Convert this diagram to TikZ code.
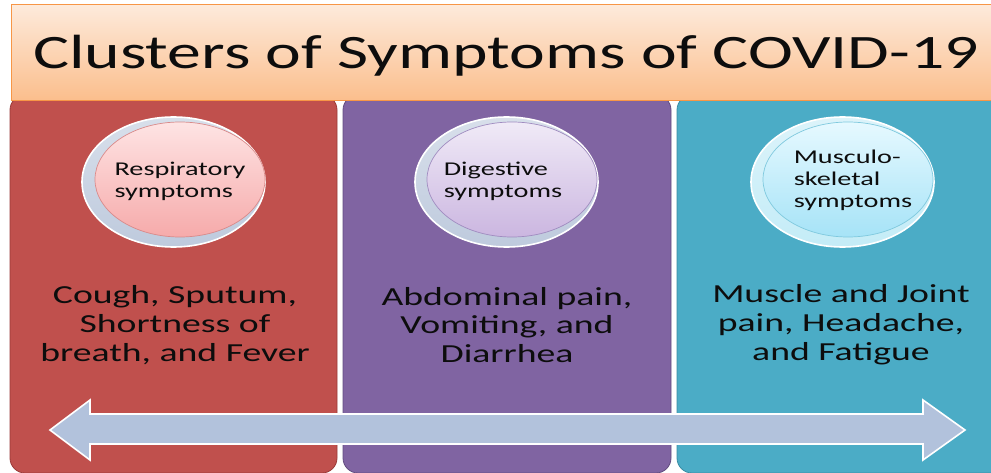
\documentclass[tikz,border=0pt]{standalone}
\usepackage{fontspec}
\newfontfamily\calfont[FakeStretch=1.45]{Carlito}
\newfontfamily\caltitle[FakeStretch=1.41]{Carlito}
\usetikzlibrary{shapes.geometric}
\definecolor{colred}{HTML}{C0504D}
\definecolor{colredline}{HTML}{9B3B39}
\definecolor{colpurple}{HTML}{8064A2}
\definecolor{colpurpleline}{HTML}{634D80}
\definecolor{colteal}{HTML}{4BACC6}
\definecolor{coltealline}{HTML}{3A8CA3}
\definecolor{titletop}{HTML}{FDEADB}
\definecolor{titlebot}{HTML}{FBBE8C}
\definecolor{titleline}{HTML}{F79646}
\definecolor{arrowfill}{HTML}{B2C2DC}
\definecolor{ringgray}{HTML}{BECADD}
\definecolor{ringcyan}{HTML}{C4ECF7}
\definecolor{redtop}{HTML}{FEE4E4}
\definecolor{redbot}{HTML}{F6AAAA}
\definecolor{redrim}{HTML}{D98A8A}
\definecolor{purtop}{HTML}{F0EAF7}
\definecolor{purbot}{HTML}{CBB6E0}
\definecolor{purrim}{HTML}{A08CC0}
\definecolor{teatop}{HTML}{E6F9FF}
\definecolor{teabot}{HTML}{A6E3F7}
\definecolor{tearim}{HTML}{7FC9DE}
\definecolor{textdark}{HTML}{0D0D0D}
\tikzset{
  column/.style={rounded corners=15pt, line width=0.8pt},
  ring/.style={ellipse, minimum width=183pt, minimum height=130pt, inner sep=0pt, draw=white, line width=1.6pt},
  disc/.style={ellipse, minimum width=170pt, minimum height=115pt, inner sep=0pt, line width=0.7pt},
  disctext/.style={font=\calfont\fontsize{19.5}{22}\selectfont, text=textdark, align=left},
  bodytext/.style={font=\calfont\fontsize{26}{28.8}\selectfont, text=textdark, align=center},
  titletext/.style={font=\caltitle\fontsize{48}{52}\selectfont, text=textdark}
}
\begin{document}
\begin{tikzpicture}[x=1pt,y=-1pt]
\clip (0,0) rectangle (991,473);
\fill[white] (0,0) rectangle (991,473);
% columns
\draw[column, fill=colred, draw=colredline] (10,95) rectangle (337,473);
\draw[column, fill=colpurple, draw=colpurpleline] (343,95) rectangle (671,473);
\draw[column, fill=colteal, draw=coltealline] (677,95) rectangle (1005,473);
% title banner
\draw[titleline, line width=1pt, top color=titletop, bottom color=titlebot] (11,5) rectangle (1000,101);
\node[titletext, anchor=base] (title) at (506,69) {Clusters of Symptoms of COVID-19};
% circles
\node[ring, top color=ringgray!60!white, bottom color=ringgray] (r1) at (173.5,182) {};
\node[disc, draw=redrim, top color=redtop, bottom color=redbot] (d1) at (180,179.5) {};
\node[disctext] (t1) at (180,181) {Respiratory\\symptoms};
\node[ring, top color=ringgray!60!white, bottom color=ringgray] (r2) at (506.5,182) {};
\node[disc, draw=purrim, top color=purtop, bottom color=purbot] (d2) at (512,179.5) {};
\node[disctext] (t2) at (503,181) {Digestive\\symptoms};
\node[ring, top color=ringcyan!60!white, bottom color=ringcyan] (r3) at (842.5,182) {};
\node[disc, draw=tearim, top color=teatop, bottom color=teabot] (d3) at (848,179.5) {};
\node[disctext] (t3) at (853,180) {Musculo-\\skeletal\\symptoms};
% body texts
\node[bodytext] (b1) at (175,325) {Cough, Sputum,\\Shortness of\\breath, and Fever};
\node[bodytext] (b2) at (507,325) {Abdominal pain,\\Vomiting, and\\Diarrhea};
\node[bodytext] (b3) at (841,325) {Muscle and Joint\\pain, Headache,\\and Fatigue};
% double arrow
\draw[fill=arrowfill, draw=white, line width=1.6pt, line join=miter]
  (50,430) -- (90,400) -- (90,414) -- (923,414) -- (923,400) -- (965,430)
  -- (923,460) -- (923,444) -- (90,444) -- (90,460) -- cycle;
\end{tikzpicture}
\end{document}
